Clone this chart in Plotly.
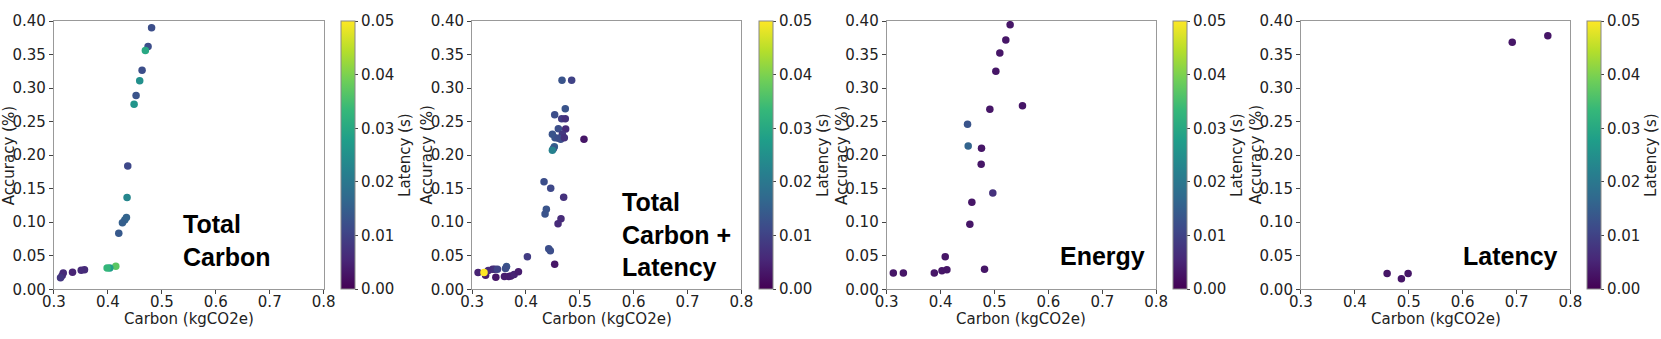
import plotly.graph_objects as go

# panel 1: Total Carbon
carbon_total = [0.481, 0.4745, 0.4695, 0.4634, 0.459, 0.4523, 0.4486, 0.4369, 0.4356, 0.4344,
                0.4313, 0.427, 0.4202, 0.4147, 0.4036, 0.3986, 0.3567, 0.3506, 0.3345, 0.3173,
                0.3154, 0.3123]
acc_total = [0.390, 0.362, 0.356, 0.3265, 0.311, 0.289, 0.276, 0.184, 0.137, 0.107,
             0.1034, 0.0994, 0.0835, 0.0343, 0.0318, 0.0318, 0.0293, 0.0283, 0.0253, 0.0243,
             0.0204, 0.0174]
lat_total = [0.012, 0.012, 0.030, 0.012, 0.025, 0.013, 0.026, 0.011, 0.023, 0.016,
             0.016, 0.015, 0.014, 0.037, 0.028, 0.033, 0.006, 0.006, 0.005, 0.006,
             0.006, 0.008]

# panel 2: Total Carbon + Latency
carbon_tcl = [0.4669, 0.4848, 0.473, 0.4533, 0.4663, 0.473, 0.4601, 0.4737, 0.449, 0.4675,
              0.4539, 0.4601, 0.4644, 0.4712, 0.5077, 0.4527, 0.4508, 0.449, 0.4335, 0.4459,
              0.470, 0.4378, 0.4354, 0.465, 0.4595, 0.4422, 0.4452, 0.4026, 0.4533,
              0.311, 0.325, 0.330, 0.338, 0.342, 0.347, 0.364, 0.362, 0.344, 0.360,
              0.368, 0.372, 0.378, 0.386, 0.322]
acc_tcl = [0.3116, 0.3116, 0.2693, 0.2604, 0.2544, 0.2544, 0.2395, 0.239, 0.2311, 0.2311,
           0.2261, 0.2251, 0.2236, 0.2261, 0.2236, 0.2127, 0.2097, 0.2072, 0.1605, 0.1506,
           0.1371, 0.1193, 0.1123, 0.1053, 0.0979, 0.0606, 0.0576, 0.0487, 0.0373,
           0.025, 0.021, 0.028, 0.030, 0.030, 0.030, 0.034, 0.031, 0.018, 0.019,
           0.019, 0.020, 0.022, 0.026, 0.025]
lat_tcl = [0.013, 0.010, 0.013, 0.012, 0.009, 0.007, 0.012, 0.006, 0.013, 0.008,
           0.013, 0.012, 0.012, 0.007, 0.003, 0.015, 0.013, 0.022, 0.012, 0.011,
           0.007, 0.013, 0.013, 0.006, 0.006, 0.012, 0.012, 0.009, 0.003,
           0.005, 0.004, 0.006, 0.006, 0.007, 0.010, 0.013, 0.012, 0.003, 0.004,
           0.004, 0.004, 0.005, 0.004, 0.050]

# panel 3: Energy
carbon_energy = [0.529, 0.521, 0.5099, 0.5025, 0.5519, 0.4914, 0.450, 0.4512, 0.4759, 0.4753,
                 0.4969, 0.458, 0.4543, 0.4086, 0.4815, 0.4117, 0.4025, 0.3883, 0.3309, 0.3123]
acc_energy = [0.3945, 0.3717, 0.3523, 0.325, 0.2738, 0.2683, 0.246, 0.2137, 0.2102, 0.1863,
              0.1436, 0.1297, 0.0969, 0.0487, 0.0298, 0.0293, 0.0278, 0.0243, 0.0243, 0.0243]
lat_energy = [0.003, 0.003, 0.003, 0.003, 0.003, 0.003, 0.013, 0.016, 0.003, 0.003,
              0.007, 0.003, 0.003, 0.003, 0.003, 0.003, 0.003, 0.003, 0.003, 0.003]

# panel 4: Latency
carbon_lat = [0.692, 0.758, 0.4599, 0.4864, 0.4988]
acc_lat = [0.3682, 0.3781, 0.0234, 0.0159, 0.0234]
lat_lat = [0.003, 0.003, 0.003, 0.003, 0.003]

labels = ["Total<br>Carbon", "Total<br>Carbon +<br>Latency", "Energy", "Latency"]

panels = [(carbon_total, acc_total, lat_total),
          (carbon_tcl, acc_tcl, lat_tcl),
          (carbon_energy, acc_energy, lat_energy),
          (carbon_lat, acc_lat, lat_lat)]

W, H = 1661, 339
x_dom = [(54, 324.3), (473, 742.7), (888.3, 1158.3), (1303.3, 1573.3)]
cb_x = [341.7, 760, 1175, 1590]
y_dom = [(H - 289.3) / H, (H - 21) / H]
label_pos = [(0.535, 0.0726), (0.574, 0.081), (0.617, 0.0497), (0.597, 0.0497)]

font = dict(family="DejaVu Sans", size=15, color="#222")
fig = go.Figure()

for i, (cx, acc, lat) in enumerate(panels):
    n = "" if i == 0 else str(i + 1)
    fig.add_trace(go.Scatter(
        x=cx, y=acc, mode="markers", xaxis="x" + n, yaxis="y" + n,
        marker=dict(size=7.5, color=lat, colorscale="Viridis", cmin=0, cmax=0.05,
                    showscale=True,
                    colorbar=dict(x=cb_x[i] / W, xanchor="left", y=sum(y_dom) / 2, yanchor="middle",
                                  len=y_dom[1] - y_dom[0], lenmode="fraction", thickness=14,
                                  xpad=0, ypad=0, outlinewidth=1, outlinecolor="#888",
                                  tickvals=[0, 0.01, 0.02, 0.03, 0.04, 0.05], tickformat=".2f",
                                  ticks="outside", ticklen=3, tickfont=font,
                                  title=dict(text="Latency (s)", side="right", font=font))),
        showlegend=False))
    fig.layout["xaxis" + n] = dict(
        domain=[x_dom[i][0] / W, x_dom[i][1] / W], anchor="y" + n, range=[0.3, 0.8],
        tickvals=[0.3, 0.4, 0.5, 0.6, 0.7, 0.8], tickformat=".1f", ticks="outside", ticklen=4,
        ticklabelstandoff=-5,
        showline=True, mirror=True, linecolor="#999", showgrid=False, zeroline=False,
        tickfont=font, automargin=False)
    fig.layout["yaxis" + n] = dict(
        domain=y_dom, anchor="x" + n, range=[0, 0.4],
        tickvals=[0, 0.05, 0.1, 0.15, 0.2, 0.25, 0.3, 0.35, 0.4], tickformat=".2f",
        ticks="outside", ticklen=4, showline=True, mirror=True, linecolor="#999",
        showgrid=False, zeroline=False, tickfont=font, automargin=False)
    # axis titles
    fig.add_annotation(x=(x_dom[i][0] + x_dom[i][1]) / 2 / W, y=(H - 318.5) / H,
                       xref="paper", yref="paper", text="Carbon (kgCO2e)", showarrow=False,
                       xanchor="center", yanchor="middle", font=font)
    fig.add_annotation(x=(x_dom[i][0] - 45) / W, y=sum(y_dom) / 2,
                       xref="paper", yref="paper", text="Accuracy (%)", showarrow=False,
                       textangle=-90, xanchor="center", yanchor="middle", font=font)
    fig.add_annotation(x=label_pos[i][0], y=label_pos[i][1], xref="x" + n, yref="y" + n,
                       text="<b>" + labels[i] + "</b>", showarrow=False, align="left",
                       xanchor="left", yanchor="middle",
                       font=dict(family="Liberation Sans", size=25, color="black"))

fig.update_layout(width=W, height=H, margin=dict(l=0, r=0, t=0, b=0),
                  plot_bgcolor="white", paper_bgcolor="white")

fig.write_html("out.html", config={"displayModeBar": False},
               post_script="document.body.style.margin='0';")
